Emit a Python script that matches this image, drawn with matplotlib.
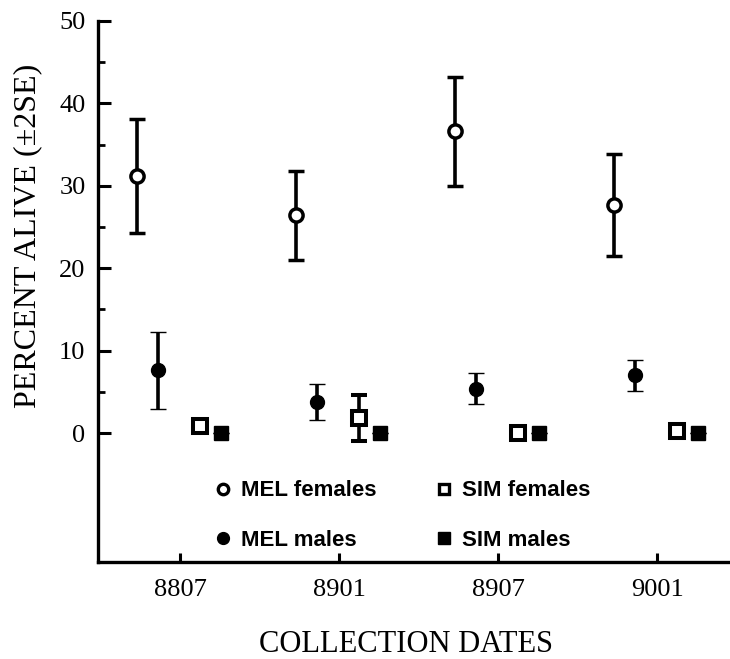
import matplotlib.pyplot as plt
from matplotlib.ticker import FixedLocator
from matplotlib.lines import Line2D

# data
dates = ['8807', '8901', '8907', '9001']

mel_f = [31.2, 26.4, 36.6, 27.7]
mel_f_err = [6.9, 5.4, 6.6, 6.2]

mel_m = [7.6, 3.8, 5.4, 7.0]
mel_m_err = [4.7, 2.2, 1.9, 1.9]

sim_f = [0.8, 1.8, 0.0, 0.3]
sim_f_err = [0.0, 2.8, 0.0, 0.0]

sim_m = [0.0, 0.0, 0.0, 0.0]
sim_m_err = [0.0, 0.0, 0.0, 0.0]

serif = 'Liberation Serif'
sans = 'Liberation Sans'

fig = plt.figure(figsize=(7.30, 6.59), dpi=100)
ax = fig.add_axes([0.1342, 0.1472, 0.866, 0.821])

pos = range(len(dates))
offsets = [-0.27, -0.14, 0.125, 0.26]

err_kw = dict(ls='none', ecolor='black', elinewidth=2.6, capsize=5.5, capthick=2.6)

ax.errorbar([p + offsets[0] for p in pos], mel_f, yerr=mel_f_err, marker='o', ms=9.5,
            mfc='white', mec='black', mew=2.5, zorder=3, **err_kw)
ax.errorbar([p + offsets[1] for p in pos], mel_m, yerr=mel_m_err, marker='o', ms=10,
            mfc='black', mec='black', mew=1, zorder=3, **err_kw)
ax.errorbar([p + offsets[2] for p in pos], sim_f, yerr=sim_f_err, marker='s', ms=9.5,
            mfc='white', mec='black', mew=2.9, zorder=3, **err_kw)
ax.errorbar([p + offsets[3] for p in pos], sim_m, yerr=sim_m_err, marker='s', ms=9.5,
            mfc='black', mec='black', mew=1, zorder=3, **err_kw)

ax.set_xlim(-0.516, 3.46)
ax.set_ylim(-15.65, 50)

ax.xaxis.set_major_locator(FixedLocator(list(pos)))
ax.set_xticklabels(dates)
ax.yaxis.set_major_locator(FixedLocator([0, 10, 20, 30, 40, 50]))
ax.yaxis.set_minor_locator(FixedLocator([5, 15, 25, 35, 45]))

for s in ['top', 'right']:
    ax.spines[s].set_visible(False)
for s in ['left', 'bottom']:
    ax.spines[s].set_linewidth(2.4)

ax.tick_params(axis='y', which='major', direction='in', length=9.5, width=2.2, pad=9)
ax.tick_params(axis='y', which='minor', direction='in', length=5, width=2.0)
ax.tick_params(axis='x', which='major', direction='in', length=6.5, width=2.2, pad=12)
for lab in ax.get_xticklabels() + ax.get_yticklabels():
    lab.set_fontfamily(serif)
    lab.set_fontsize(19)

ax.set_ylabel('PERCENT ALIVE (±2SE)', fontfamily=serif, fontsize=23, va='center')
ax.yaxis.set_label_coords(-0.111, 0.603)
ax.set_xlabel('COLLECTION DATES', fontfamily=serif, fontsize=22, va='center')
ax.xaxis.set_label_coords(0.487, -0.153)

handles = [
    Line2D([], [], ls='none', marker='o', ms=7.5, mfc='white', mec='black', mew=2.4),
    Line2D([], [], ls='none', marker='o', ms=8.5, mfc='black', mec='black'),
    Line2D([], [], ls='none', marker='s', ms=7.5, mfc='white', mec='black', mew=2.4),
    Line2D([], [], ls='none', marker='s', ms=8, mfc='black', mec='black'),
]
labels = ['MEL females', 'MEL males', 'SIM females', 'SIM males']
ax.legend(handles, labels, ncol=2, loc='upper left', bbox_to_anchor=(0.183, 0.151),
          frameon=False, borderpad=0, borderaxespad=0, handlelength=0.8,
          handletextpad=0.45, columnspacing=2.6, labelspacing=1.28,
          prop={'family': sans, 'size': 16, 'weight': 'bold'})

plt.savefig('out.png', dpi=100)
